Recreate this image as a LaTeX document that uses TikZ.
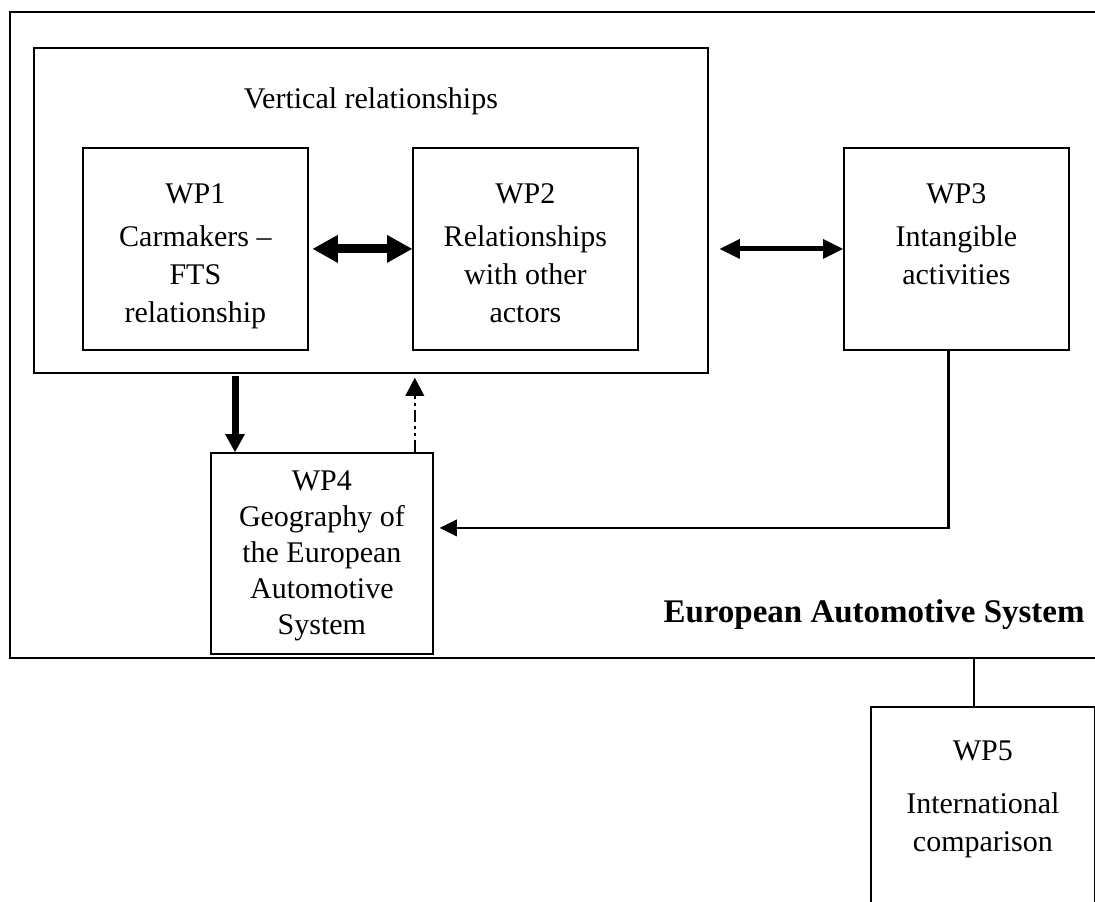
\documentclass[tikz,border=0pt]{standalone}
\usepackage{fontspec}
\setmainfont{Liberation Serif}
\usetikzlibrary{positioning,arrows.meta}

\begin{document}
\begin{tikzpicture}[x=0.5pt,y=-0.5pt,
  box/.style={draw,line width=0.9pt,anchor=north west,minimum width=112.5pt,minimum height=101pt,inner sep=0pt},
  boxtext/.style={anchor=north,align=center,inner sep=0pt,font=\fontsize{15}{19}\selectfont},
  bigdbl/.style={line width=4.5pt,{Triangle[width=14pt,length=12.5pt,line width=0pt]}-{Triangle[width=14pt,length=12.5pt,line width=0pt]}},
  smalldbl/.style={line width=2.5pt,{Triangle[width=10pt,length=10pt,line width=0pt]}-{Triangle[width=10pt,length=10pt,line width=0pt]}},
  bigdown/.style={line width=3.5pt,-{Triangle[width=10pt,length=9pt,line width=0pt]}},
  dashdot/.style={line width=1.2pt,dash pattern=on 6pt off 2pt on 1.5pt off 2pt on 1.5pt off 2pt,-{Triangle[width=9.5pt,length=9pt,line width=0pt]}},
  feed/.style={line width=1.2pt,-{Triangle[width=8.5pt,length=8.5pt,line width=0pt]}},
  link/.style={line width=0.9pt}]
\useasboundingbox (0,0) rectangle (1095,901);
\clip (0,0) rectangle (1095,901);

\node[box,minimum width=600pt,minimum height=323pt] (eas) at (9,11) {};
\node[box,minimum width=337pt,minimum height=162.5pt] (vr) at (33,47) {};
\node[boxtext,below=20pt of vr.north] (vrtxt) {Vertical relationships};

\node[box] (wp1) at (82,147) {};
\node[boxtext,below=18pt of wp1.north] (wp1txt) {WP1\\[2.5pt]Carmakers --\\FTS\\relationship};
\node[box] (wp2) at (412,147) {};
\node[boxtext,below=18pt of wp2.north] (wp2txt) {WP2\\[2.5pt]Relationships\\with other\\actors};
\node[box] (wp3) at (843,147) {};
\node[boxtext,below=18pt of wp3.north] (wp3txt) {WP3\\[2.5pt]Intangible\\activities};
\node[box,minimum width=111pt,minimum height=100.5pt] (wp4) at (210,452) {};
\node[boxtext,font=\fontsize{15}{18}\selectfont,below=9pt of wp4.north] (wp4txt) {WP4\\Geography of\\the European\\Automotive\\System};
\node[box,minimum width=112pt,minimum height=125pt] (wp5) at (870,706) {};
\node[boxtext,below=17pt of wp5.north] (wp5txt) {WP5\\[7.5pt]International\\comparison};

\node[font=\fontsize{16.5}{19}\selectfont\bfseries,anchor=base east,inner sep=0pt] (eastxt) at (1085,622) {European Automotive System};

\draw[bigdbl,shorten <=2pt] (wp1.east) -- (wp2.west);
\draw[smalldbl,shorten <=5.5pt] (vr.east |- wp3.west) -- (wp3.west);

\coordinate (dn) at ([xshift=12.5pt]wp4.north west);
\draw[bigdown,shorten <=1pt] (dn |- vr.south) -- (dn);
\coordinate (up) at ([xshift=-9.5pt]wp4.north east);
\draw[dashdot,shorten >=2pt] (up) -- (up |- vr.south);

\coordinate (fb) at ([xshift=-4pt]wp3.south);
\coordinate (in4) at ([yshift=12.75pt]wp4.east);
\draw[feed,shorten >=3pt] (fb) |- (in4);

\coordinate (c5) at ([xshift=-4.5pt]wp5.north);
\draw[link] (c5) -- (c5 |- eas.south);
\end{tikzpicture}
\end{document}
